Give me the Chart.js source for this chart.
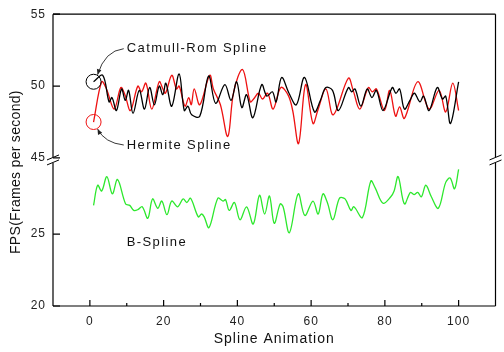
<!DOCTYPE html>
<html>
<head>
<meta charset="utf-8">
<script src="https://cdn.jsdelivr.net/npm/chart.js@4.4.1/dist/chart.umd.min.js"></script>
<style>
  html, body { margin: 0; padding: 0; background: #fff; }
  #wrap { width: 504px; height: 352px; position: relative; }
</style>
</head>
<body>
<div id="wrap"><canvas id="fpsChart"></canvas></div>
<script>
// frame positions (x) and FPS, one pair per turning point
const catmullX = [1, 3.5, 5.2, 6, 7.2, 8.6, 9.6, 10.5, 11.7, 13.4, 14.8, 16.2, 17.5, 18.8, 19.8, 20.6, 22.2, 24.2, 25.6, 26.6, 27.6, 29.8, 32.2, 34.1, 36.6, 38.3, 39.8, 41.2, 42.5, 44.2, 46.6, 48, 49.5, 50.5, 52, 54, 56, 58.2, 60.9, 62.5, 64, 65.8, 67.4, 70.1, 71, 71.9, 73.5, 75.2, 76.5, 77.7, 79.5, 82, 83, 84, 85.3, 86.8, 88, 89.5, 90.5, 92, 94.2, 95.6, 96.5, 97.8, 100];
const catmullFps = [50.3, 50.75, 48.9, 49.2, 48.3, 49.8, 49.0, 49.7, 48.1, 49.7, 48.4, 49.9, 48.7, 50.0, 49.4, 50.2, 48.6, 50.85, 48.3, 48.6, 48.0, 47.9, 50.7, 48.8, 50.1, 49.0, 50.3, 48.5, 49.4, 47.8, 50.1, 49.3, 49.6, 48.9, 50.6, 49.5, 48.7, 50.6, 48.2, 49.0, 49.9, 49.7, 48.3, 49.9, 49.6, 49.8, 48.6, 49.8, 49.2, 49.7, 48.3, 49.9, 49.5, 49.8, 48.4, 49.0, 49.5, 48.9, 49.3, 48.3, 49.9, 49.1, 49.3, 47.4, 50.3];

const hermiteX = [1, 3.2, 4.5, 6.6, 8.4, 9.5, 11, 13, 14, 15.2, 16.8, 18.8, 19.8, 20.5, 22.2, 23.5, 24.2, 25.8, 26.8, 27.5, 28.3, 29.8, 32.5, 33.5, 35.4, 37.4, 39, 41.4, 43.5, 44.4, 45.7, 46.8, 48.2, 49.7, 51.8, 53.8, 55, 56.6, 58.5, 60.5, 61.8, 64, 66, 70.1, 71.4, 73.2, 75.5, 76.6, 77.7, 79.9, 81.3, 82.9, 84, 85.3, 88.9, 92, 94.7, 96.5, 98.4, 100];
const hermiteFps = [47.5, 50.3, 49.8, 48.4, 49.9, 49.4, 48.3, 50.0, 49.6, 50.2, 48.4, 50.3, 49.8, 49.5, 50.75, 49.8, 50.0, 48.6, 49.2, 48.7, 49.8, 48.7, 50.75, 49.8, 48.7, 46.5, 49.6, 51.15, 48.9, 49.1, 49.5, 49.1, 49.5, 48.4, 49.9, 49.35, 48.3, 46.0, 50.1, 47.4, 48.3, 49.8, 48.0, 50.55, 49.7, 48.4, 49.9, 49.6, 49.8, 48.3, 49.7, 47.9, 48.55, 47.75, 50.3, 48.4, 49.7, 48.2, 50.2, 48.3];

const bsplineX = [1, 2.1, 3.2, 4.6, 6.1, 7.5, 9.7, 10.8, 11.9, 13, 14.2, 15.7, 17, 18.4, 19.5, 20.9, 22.2, 23.8, 25.3, 26.3, 27.3, 29.4, 30.3, 31, 32.3, 34.7, 36.1, 36.8, 37.8, 39.2, 40.7, 42.5, 44.3, 46, 47.4, 48.7, 50, 51.6, 52.4, 54.1, 56.5, 58.3, 60.5, 61.9, 63.2, 64.4, 65.9, 67.7, 69.2, 70.8, 71.6, 73.9, 76.2, 77.4, 79.5, 81.6, 82.5, 83.6, 85.3, 86.9, 87.9, 88.9, 89.9, 91.1, 92.6, 94.5, 96.5, 97.7, 98.9, 100];
const bsplineFps = [27.0, 28.4, 28.0, 29.0, 27.8, 28.8, 27.1, 27.0, 26.65, 26.7, 26.9, 26.1, 27.45, 26.8, 27.3, 26.35, 27.3, 26.9, 27.45, 27.2, 27.5, 26.2, 26.4, 26.2, 25.45, 27.5, 27.3, 27.4, 26.65, 27.2, 26.0, 26.9, 25.7, 27.7, 26.4, 27.65, 25.75, 27.1, 26.9, 25.1, 27.8, 26.3, 27.3, 26.4, 27.8, 27.2, 26.0, 27.5, 27.45, 26.65, 26.9, 26.15, 28.7, 28.2, 27.15, 27.6, 28.0, 29.0, 27.1, 27.9, 27.75, 27.9, 27.6, 28.4, 27.6, 26.8, 28.6, 28.9, 28.15, 29.5];

const xTicks = [0, 20, 40, 60, 80, 100];
const xMinorTicks = [10, 30, 50, 70, 90];
const yTickLabels = [20, 25, 45, 50, 55];

// broken axis: everything from 45 up is shifted down by this much
const BREAK_SHIFT = 14.7;
const toAxis = v => v >= 40 ? v - BREAK_SHIFT : v;
const fromAxis = v => v >= 30 ? Math.round(v + BREAK_SHIFT) : v;
const BREAK_AT = toAxis(45);
const yTicks = yTickLabels.map(toAxis);

const FONT = '"Liberation Sans", Arial, sans-serif';

function series(xs, ys) {
    return xs.map((x, i) => ({ x: x, y: toAxis(ys[i]) }));
}

function lineSet(label, xs, ys, color, circle) {
    return {
        label: label,
        data: series(xs, ys),
        borderColor: color,
        borderWidth: 1.3,
        backgroundColor: 'transparent',
        tension: 0.35,
        pointRadius: ctx => (circle && ctx.dataIndex === 0) ? 7.5 : 0,
        pointBorderColor: color,
        pointBorderWidth: 1,
        pointBackgroundColor: 'transparent',
        fill: false
    };
}

const framePlugin = {
    id: 'frame',
    afterDraw(chart) {
        const { ctx, chartArea: a, scales: { x, y } } = chart;
        const by = y.getPixelForValue(BREAK_AT);
        ctx.save();
        ctx.strokeStyle = '#000';
        ctx.lineWidth = 1.2;

        // box with gaps at the break
        ctx.beginPath();
        ctx.moveTo(a.left, a.bottom); ctx.lineTo(a.right, a.bottom);
        ctx.moveTo(a.left, a.top); ctx.lineTo(a.right, a.top);
        [a.left, a.right].forEach(px => {
            ctx.moveTo(px, a.top); ctx.lineTo(px, by - 1);
            ctx.moveTo(px, by + 5); ctx.lineTo(px, a.bottom);
        });
        ctx.stroke();

        // break slashes
        ctx.lineWidth = 1;
        ctx.beginPath();
        [a.left, a.right].forEach(px => {
            ctx.moveTo(px - 6, by + 2); ctx.lineTo(px + 6, by - 3);
            ctx.moveTo(px - 6, by + 7); ctx.lineTo(px + 6, by + 2);
        });
        ctx.stroke();

        // inward ticks
        ctx.lineWidth = 1.2;
        ctx.beginPath();
        xTicks.forEach(v => {
            const px = x.getPixelForValue(v);
            ctx.moveTo(px, a.bottom); ctx.lineTo(px, a.bottom - 6);
        });
        xMinorTicks.forEach(v => {
            const px = x.getPixelForValue(v);
            ctx.moveTo(px, a.bottom); ctx.lineTo(px, a.bottom - 3);
        });
        yTicks.forEach(v => {
            const py = y.getPixelForValue(v);
            ctx.moveTo(a.left, py); ctx.lineTo(a.left + 7, py);
        });
        ctx.stroke();

        // y axis title, sits a little below the middle of the axis
        ctx.fillStyle = '#111';
        ctx.font = '14px ' + FONT;
        ctx.letterSpacing = '0.3px';
        ctx.textAlign = 'center';
        ctx.textBaseline = 'middle';
        ctx.save();
        ctx.translate(16, (a.top + a.bottom) / 2 + 12);
        ctx.rotate(-Math.PI / 2);
        ctx.fillText('FPS(Frames per second)', 0, 0);
        ctx.restore();

        // annotations
        ctx.font = '13px ' + FONT;
        ctx.letterSpacing = '1.4px';
        ctx.textAlign = 'left';
        const cx = x.getPixelForValue(10);
        const catY = y.getPixelForValue(toAxis(52.6));
        const herY = y.getPixelForValue(toAxis(45.9));
        const bY = y.getPixelForValue(24.4);
        ctx.fillText('Catmull-Rom Spline', cx, catY);
        ctx.fillText('Hermite Spline', cx, herY);
        ctx.fillText('B-Spline', cx, bY);

        const p0 = chart.getDatasetMeta(0).data[0];
        const p1 = chart.getDatasetMeta(1).data[0];
        ctx.lineWidth = 0.9;
        ctx.strokeStyle = '#222';
        drawArrow(ctx, cx - 3, catY, cx - 22, catY + 2, p0.x + 4, p0.y - 7);
        drawArrow(ctx, cx - 3, herY, cx - 22, herY - 2, p1.x + 4, p1.y + 7);
        ctx.restore();
    }
};

function drawArrow(ctx, sx, sy, qx, qy, ex, ey) {
    ctx.beginPath();
    ctx.moveTo(sx, sy);
    ctx.quadraticCurveTo(qx, qy, ex, ey);
    ctx.stroke();
    const ang = Math.atan2(ey - qy, ex - qx);
    ctx.beginPath();
    ctx.moveTo(ex, ey);
    ctx.lineTo(ex - 6 * Math.cos(ang - 0.4), ey - 6 * Math.sin(ang - 0.4));
    ctx.lineTo(ex - 6 * Math.cos(ang + 0.4), ey - 6 * Math.sin(ang + 0.4));
    ctx.closePath();
    ctx.fillStyle = '#222';
    ctx.fill();
}

new Chart(document.getElementById('fpsChart'), {
    type: 'line',
    data: {
        datasets: [
            lineSet('Catmull-Rom Spline', catmullX, catmullFps, '#000000', true),
            lineSet('Hermite Spline', hermiteX, hermiteFps, '#ee1111', true),
            lineSet('B-Spline', bsplineX, bsplineFps, '#2de82d', false)
        ]
    },
    options: {
        responsive: true,
        maintainAspectRatio: false,
        animation: false,
        layout: { padding: { left: 0, top: 12, right: 4, bottom: 0 } },
        plugins: {
            legend: { display: false },
            tooltip: { enabled: false }
        },
        scales: {
            x: {
                type: 'linear',
                min: -10,
                max: 110,
                afterBuildTicks: s => { s.ticks = xTicks.map(v => ({ value: v })); },
                afterFit: s => { s.height = 46; },
                grid: { display: false, drawTicks: false },
                border: { display: false },
                ticks: { color: '#222', padding: 8, font: { family: FONT, size: 12 } },
                title: {
                    display: true,
                    text: 'Spline Animation',
                    color: '#111',
                    padding: { top: 0, bottom: 4 },
                    font: { family: FONT, size: 14 }
                }
            },
            y: {
                type: 'linear',
                min: 20,
                max: toAxis(55),
                afterBuildTicks: s => { s.ticks = yTicks.map(v => ({ value: v })); },
                afterFit: s => { s.width = 53; },
                grid: { display: false, drawTicks: false },
                border: { display: false },
                ticks: {
                    color: '#222',
                    padding: 7,
                    font: { family: FONT, size: 12 },
                    callback: v => fromAxis(v)
                },
                title: { display: false }
            }
        }
    },
    plugins: [framePlugin, {
        id: 'xTitleSpacing',
        beforeDraw(chart) { chart.ctx.letterSpacing = '1px'; }
    }]
});
</script>
</body>
</html>
